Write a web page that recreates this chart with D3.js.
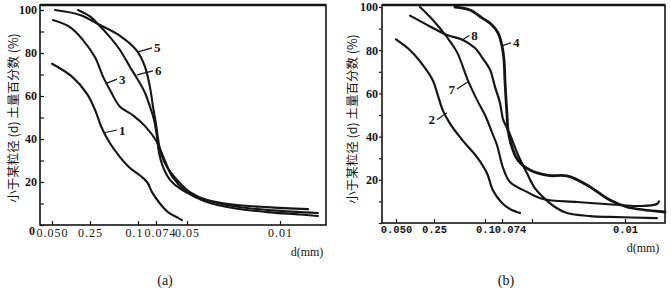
<!DOCTYPE html>
<html>
<head>
<meta charset="utf-8">
<script src="https://cdn.jsdelivr.net/npm/d3@7"></script>
<style>
  body { margin: 0; background: #fff; }
  svg { display: block; }
</style>
</head>
<body>
<svg id="chart" width="671" height="294"></svg>
<script>
// x axis: particle diameter d (mm), reversed log axis
const xTickVals = [0.5, 0.25, 0.1, 0.074, 0.05, 0.01];
const xTickTextA = ["0.050", "0.25", "0.1", "0.074", "0.05", "0.01"];
const xTickTextB = ["0.050", "0.25", "0.1", "0.074", "", "0.01"];
const yTickVals = [0, 10, 20, 30, 40, 50, 60, 70, 80, 90, 100];
const yTitle = "小于某粒径 (d) 土量百分数 (%)";

// panel (a) curves
const c1D = [0.5, 0.347, 0.264, 0.227, 0.199, 0.1707, 0.141, 0.1165, 0.0967, 0.086, 0.0791, 0.0704, 0.0636, 0.056, 0.0533];
const c1V = [75, 69, 61, 53.5, 45, 38, 31.6, 26.5, 23, 20, 15.3, 10, 6, 3.3, 2.3];
const c3D = [0.491, 0.36, 0.284, 0.227, 0.195, 0.1707, 0.141, 0.11, 0.0889, 0.0731, 0.0677, 0.0597, 0.05, 0.0354, 0.0226, 0.01252, 0.00707, 0.00518];
const c3V = [95.3, 92, 86, 78, 69, 62.8, 55, 51, 46, 38.6, 32, 22, 15.3, 10.7, 7.9, 6, 4.9, 4.2];
const c5D = [0.473, 0.3, 0.2066, 0.141, 0.102, 0.0889, 0.0818, 0.0778, 0.074, 0.0721, 0.0694, 0.0644, 0.0567, 0.0475, 0.0354, 0.0226, 0.01252, 0.00616];
const c5V = [100, 97.7, 93, 88, 81, 73.5, 64, 55, 47, 40, 33, 27, 21, 15.3, 11.6, 9.5, 8.3, 7.4];
const c6D = [0.311, 0.25, 0.2188, 0.1707, 0.141, 0.1165, 0.1, 0.0889, 0.0818, 0.0765, 0.0731, 0.0712, 0.0677, 0.062, 0.0533, 0.0399, 0.0226, 0.01129, 0.00518];
const c6V = [100, 97, 94, 87.4, 81.4, 73.5, 67.4, 61.4, 55, 49, 41, 33.5, 27, 21, 16.3, 12.6, 8.8, 6.8, 5.6];

// panel (b) curves
const c2D = [0.5, 0.387, 0.305, 0.255, 0.233, 0.213, 0.1875, 0.1485, 0.1155, 0.0965, 0.0868, 0.074, 0.0667, 0.0585];
const c2V = [85, 80, 73, 66, 59, 52, 46, 38, 30.5, 23, 15, 9.3, 6.5, 4.6];
const c7D = [0.323, 0.255, 0.198, 0.165, 0.136, 0.1155, 0.1, 0.0884, 0.0808, 0.073, 0.0667, 0.0534, 0.0413, 0.0229, 0.0109, 0.00732, 0.00575, 0.00555];
const c7V = [100, 94, 86, 79, 66, 57, 50, 42, 36, 25.5, 19, 14.4, 11.1, 9.7, 8.3, 7.9, 8.8, 10];
const c8D = [0.387, 0.269, 0.198, 0.151, 0.1197, 0.1036, 0.0915, 0.0838, 0.0767, 0.073, 0.0693, 0.0667, 0.06, 0.0534, 0.0475, 0.0413, 0.0336, 0.0273, 0.0183, 0.013, 0.00575];
const c8V = [96, 91, 87, 85, 81, 76, 71, 63, 55.6, 48, 44, 41, 31.5, 23, 16, 12, 7.4, 4.6, 3.2, 2.8, 2.3];
const c4D = [0.1714, 0.131, 0.1055, 0.0884, 0.0794, 0.074, 0.0721, 0.0712, 0.0702, 0.0693, 0.0684, 0.0649, 0.06, 0.0513, 0.0379, 0.0273, 0.0193, 0.013, 0.00966, 0.005];
const c4V = [100, 98.6, 95, 91.7, 88, 82, 75.5, 66, 57, 50, 43, 35, 29, 24.5, 22, 21.8, 17.6, 10.6, 7.4, 5.1];

// curve number labels: point on the curve (d, v) where the leader starts
const labA = [
  { name: "5", d: 0.1, v: 80.5, dx: 14, dy: -4 },
  { name: "6", d: 0.102, v: 69.8, dx: 16, dy: -4 },
  { name: "3", d: 0.1807, v: 66, dx: 10, dy: -4 },
  { name: "1", d: 0.195, v: 42.8, dx: 14, dy: -3 }
];
const labB = [
  { name: "2", d: 0.198, v: 51, dx: -10, dy: 7 },
  { name: "7", d: 0.136, v: 65.3, dx: -11, dy: 7 },
  { name: "8", d: 0.153, v: 84.5, dx: 8, dy: -5 },
  { name: "4", d: 0.074, v: 82, dx: 9, dy: -3 }
];

const toPts = (ds, vs) => ds.map((d, i) => ({ d: d, v: vs[i] }));

const panels = [
  {
    left: 40, right: 326, top: 5, bottom: 225, top100: 10,
    tickPx: [52, 90, 138, 156, 187, 280],
    tickText: xTickTextA, tickShift: [0, 0, -4, 4, 0, 0],
    tickFont: "'Liberation Serif', serif", tickSize: 12, tickWeight: "normal", spacing: 1,
    yInner: -4, yPad: 3, showZero: true, titleX: 14, titleY: 118,
    series: [
      { name: "1", pts: toPts(c1D, c1V), w: 2.1 },
      { name: "3", pts: toPts(c3D, c3V), w: 2.1 },
      { name: "5", pts: toPts(c5D, c5V), w: 2.1 },
      { name: "6", pts: toPts(c6D, c6V), w: 2.1 }
    ],
    labels: labA,
    unitX: 307, unitY: 256, capX: 165, cap: "(a)"
  },
  {
    left: 382, right: 665, top: 5, bottom: 223, top100: 7,
    tickPx: [396, 434, 485, 502, 532, 625],
    tickText: xTickTextB, tickShift: [0, 0, 0, 8, 0, 0],
    tickFont: "'Liberation Mono', monospace", tickSize: 10.5, tickWeight: "bold", spacing: 0,
    yInner: 3, yPad: 1, showZero: false, titleX: 353, titleY: 119,
    series: [
      { name: "2", pts: toPts(c2D, c2V), w: 2.2 },
      { name: "7", pts: toPts(c7D, c7V), w: 2.1 },
      { name: "8", pts: toPts(c8D, c8V), w: 2.2 },
      { name: "4", pts: toPts(c4D, c4V), w: 2.8 }
    ],
    labels: labB,
    unitX: 643, unitY: 252, capX: 506, cap: "(b)"
  }
];

const svg = d3.select("#chart");
const ink = "#151515";

panels.forEach(p => {
  const g = svg.append("g");

  // piecewise log scale so the printed tick marks land where they are in the figure
  const x = d3.scaleLog().domain(xTickVals).range(p.tickPx);
  const y = d3.scaleLinear().domain([0, 100]).range([p.bottom, p.top100]);

  // frame
  g.append("rect")
    .attr("x", p.left).attr("y", p.top)
    .attr("width", p.right - p.left).attr("height", p.bottom - p.top)
    .attr("fill", "none").attr("stroke", ink).attr("stroke-width", 1.6);
  g.append("line")
    .attr("x1", p.left).attr("x2", p.right).attr("y1", p.top).attr("y2", p.top)
    .attr("stroke", ink).attr("stroke-width", 2.4);

  // x axis
  const xAxis = d3.axisBottom(x)
    .tickValues(xTickVals)
    .tickFormat((d, i) => p.tickText[i])
    .tickSizeInner(-4).tickSizeOuter(0).tickPadding(3);
  const xg = g.append("g").attr("transform", `translate(0,${p.bottom})`).call(xAxis);
  xg.select(".domain").remove();
  xg.selectAll(".tick line").attr("stroke", ink).attr("stroke-width", 1.2);
  xg.selectAll(".tick text")
    .attr("fill", ink)
    .attr("dx", (d, i) => p.tickShift[i])
    .style("font-family", p.tickFont)
    .style("font-size", p.tickSize + "px")
    .style("font-weight", p.tickWeight)
    .style("letter-spacing", p.spacing + "px");

  // y axis
  const yAxis = d3.axisLeft(y)
    .tickValues(yTickVals)
    .tickFormat(d => (d % 20 === 0 && (d > 0 || p.showZero)) ? d : "")
    .tickSizeInner(p.yInner).tickSizeOuter(0).tickPadding(p.yPad);
  const yg = g.append("g").attr("transform", `translate(${p.left},0)`).call(yAxis);
  yg.select(".domain").remove();
  yg.selectAll(".tick line").attr("stroke", ink).attr("stroke-width", 1.2);
  yg.selectAll(".tick text")
    .attr("fill", ink)
    .attr("dx", d => d === 0 ? -2 : 0)
    .attr("dy", d => d === 0 ? "0.75em" : "0.32em")
    .style("font-family", "'Liberation Serif', serif")
    .style("font-size", "12px")
    .style("font-weight", "bold");

  // y title
  g.append("text")
    .attr("transform", `translate(${p.titleX},${p.titleY}) rotate(-90)`)
    .attr("text-anchor", "middle").attr("dy", "0.35em")
    .attr("fill", ink)
    .style("font-family", "'Noto Sans CJK SC', sans-serif")
    .style("font-size", "12.5px")
    .text(yTitle);

  // curves
  const line = d3.line()
    .x(d => x(d.d))
    .y(d => y(d.v))
    .curve(d3.curveCatmullRom.alpha(0.5));
  g.selectAll(".curve")
    .data(p.series)
    .join("path")
    .attr("class", "curve")
    .attr("d", d => line(d.pts))
    .attr("fill", "none")
    .attr("stroke", ink)
    .attr("stroke-width", d => d.w)
    .attr("stroke-linejoin", "round")
    .attr("stroke-linecap", "round");

  // curve numbers with short leaders
  const lab = g.selectAll(".lab").data(p.labels).join("g").attr("class", "lab");
  lab.append("line")
    .attr("x1", d => x(d.d)).attr("y1", d => y(d.v))
    .attr("x2", d => x(d.d) + d.dx).attr("y2", d => y(d.v) + d.dy)
    .attr("stroke", ink).attr("stroke-width", 1.2);
  lab.append("text")
    .attr("x", d => x(d.d) + d.dx + (d.dx > 0 ? 2 : -2))
    .attr("y", d => y(d.v) + d.dy)
    .attr("dy", "0.35em")
    .attr("text-anchor", d => d.dx > 0 ? "start" : "end")
    .attr("fill", ink)
    .style("font-family", "'Liberation Serif', serif")
    .style("font-size", "13px")
    .style("font-weight", "bold")
    .text(d => d.name);

  // unit and caption
  g.append("text")
    .attr("x", p.unitX).attr("y", p.unitY)
    .attr("text-anchor", "middle")
    .attr("fill", ink)
    .style("font-family", "'Liberation Serif', serif")
    .style("font-size", "12px")
    .text("d(mm)");
  g.append("text")
    .attr("x", p.capX).attr("y", 285)
    .attr("text-anchor", "middle")
    .attr("fill", ink)
    .style("font-family", "'Liberation Serif', serif")
    .style("font-size", "14px")
    .text(p.cap);
});
</script>
</body>
</html>
